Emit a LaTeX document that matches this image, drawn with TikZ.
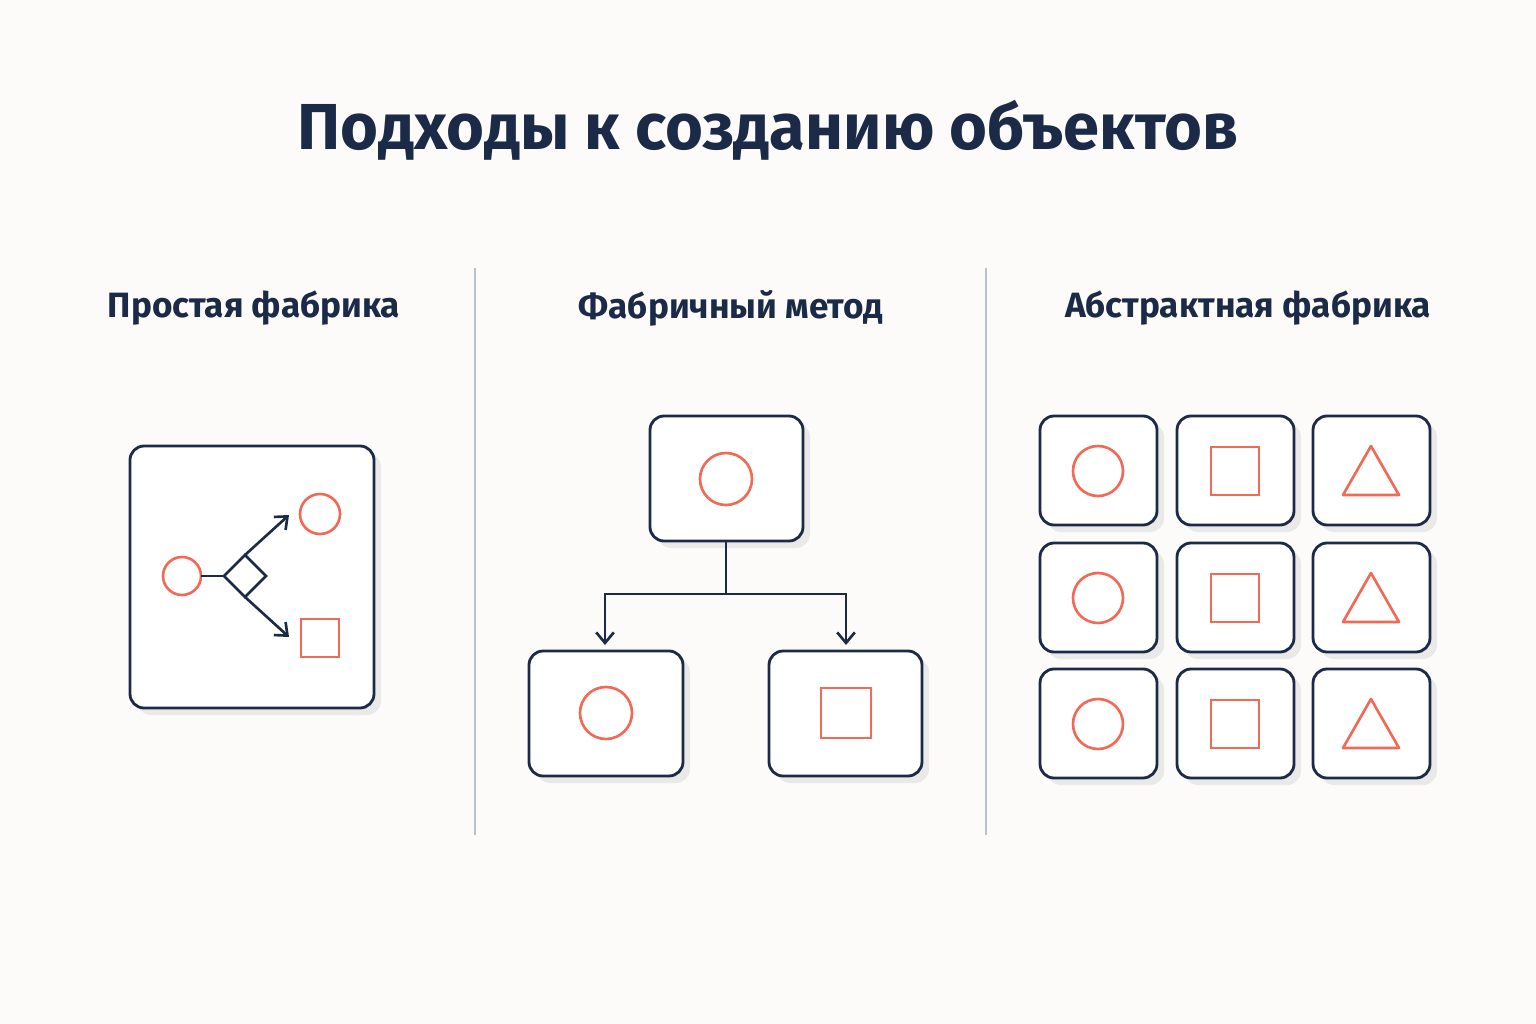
\documentclass[tikz,border=0pt]{standalone}
\usepackage{fontspec}
\setmainfont{Fira Sans}
\usetikzlibrary{arrows.meta}
\definecolor{navy}{HTML}{1B2A47}
\definecolor{cor}{HTML}{F26A55}
\definecolor{bg}{HTML}{FCFBF9}
\definecolor{sh}{HTML}{E9E9E8}
\definecolor{divc}{HTML}{B8C2CE}
\begin{document}
\begin{tikzpicture}[x=0.02cm,y=-0.02cm,
  box/.style={draw=navy,line width=1.6pt,rounded corners=8pt,fill=white},
  shp/.style={draw=cor,line width=1.5pt},
  ln/.style={draw=navy,line width=1.5pt},
  arr/.style={ln,-{Straight Barb[length=6pt,width=10pt]}},
  hd/.style={text=navy,font=\fontsize{20}{24}\selectfont\bfseries}]
\fill[bg] (0,0) rectangle (1536,1024);
\useasboundingbox (0,0) rectangle (1536,1024);
\node[text=navy,font=\fontsize{37}{44}\selectfont\bfseries] (title) at (768,130) {Подходы к созданию объектов};
\node[hd] (h1) at (254,308) {Простая фабрика};
\node[hd] (h2) at (731,308) {Фабричный метод};
\node[hd] (h3) at (1248,308) {Абстрактная фабрика};
\draw[divc,line width=1.2pt] (475,268) -- (475,835);
\draw[divc,line width=1.2pt] (986,268) -- (986,835);
\newcommand{\bx}[5]{%
 \fill[sh,rounded corners=8pt] (#2+7,#3+7) rectangle (#4+7,#5+7);
 \path[box] (#2,#3) rectangle (#4,#5) coordinate (#1);}
% left
\bx{L}{130}{446}{374}{708}
\draw[shp] (182,576) circle[radius=19];
\coordinate (dL) at (224,576); \coordinate (dT) at (245,555);
\coordinate (dR) at (266,576); \coordinate (dB) at (245,597);
\draw[ln] (201,576) -- (dL);
\draw[ln] (dL) -- (dT) -- (dR) -- (dB) -- cycle;
\coordinate (a1) at (289,515); \coordinate (a2) at (289,637);
\draw[arr] (dT) -- (a1);
\draw[arr] (dB) -- (a2);
\draw[shp] (320,514) circle[radius=20];
\draw[shp] (301,619) rectangle (339,657);
% middle
\bx{T}{650}{416}{803}{541}
\draw[shp] (726,479) circle[radius=26];
\bx{B1}{529}{651}{683}{776}
\draw[shp] (606,713) circle[radius=26];
\bx{B2}{769}{651}{922}{776}
\draw[shp] (821,688) rectangle (871,738);
\coordinate (j) at (726,594);
\draw[ln] (726,541) -- (j);
\draw[arr] (j) -- (605,594) -- (605,645);
\draw[arr] (j) -- (846,594) -- (846,645);
% right grid
\foreach \c/\xa in {0/1040,1/1177,2/1313}{
 \foreach \r/\ya in {0/416,1/543,2/669}{
  \pgfmathsetmacro{\xb}{\xa+117}\pgfmathsetmacro{\yb}{\ya+109}
  \pgfmathsetmacro{\cx}{\xa+58}\pgfmathsetmacro{\cy}{\ya+55}
  \bx{g\c\r}{\xa}{\ya}{\xb}{\yb}
  \ifnum\c=0 \draw[shp] (\cx,\cy) circle[radius=25];\fi
  \ifnum\c=1 \draw[shp] (\cx-24,\cy-24) rectangle (\cx+24,\cy+24);\fi
  \ifnum\c=2 \draw[shp,line join=round] (\cx-28,\cy+24) -- (\cx,\cy-25) -- (\cx+28,\cy+24) -- cycle;\fi
 }}
\end{tikzpicture}
\end{document}
